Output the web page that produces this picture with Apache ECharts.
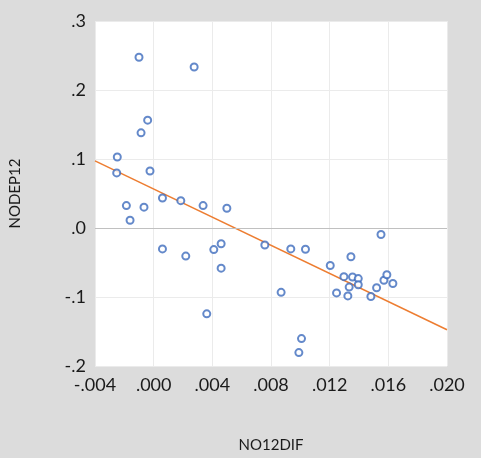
<!DOCTYPE html>
<html>
<head>
<meta charset="utf-8">
<script src="https://cdn.jsdelivr.net/npm/echarts@6/dist/echarts.min.js"></script>
<style>
  html, body { margin: 0; padding: 0; background: #dcdcdc; }
  #chart { width: 481px; height: 458px; }
</style>
</head>
<body>
<div id="chart"></div>
<script>
// NO12DIF values (x)
var no12dif = [
  -0.00100, 0.00276, -0.00041, -0.00086, -0.00248, -0.00252, -0.00025,
  0.00060, 0.00185, 0.00337, 0.00499, -0.00186, -0.00066, -0.00161,
  0.00060, 0.00219, 0.00410, 0.00460, 0.00460, 0.00362, 0.00758,
  0.00935, 0.01035, 0.00869, 0.01008, 0.00990, 0.01204, 0.01297,
  0.01247, 0.01345, 0.01356, 0.01395, 0.01333, 0.01395, 0.01324,
  0.01481, 0.01520, 0.01550, 0.01570, 0.01590, 0.01631
]
// NODEP12 values (y)
var nodep12 = [
  0.2475, 0.2334, 0.1563, 0.1379, 0.1029, 0.0798, 0.0826,
  0.0434, 0.0396, 0.0325, 0.0287, 0.0325, 0.0302, 0.0112,
  -0.0303, -0.0407, -0.0313, -0.0228, -0.0582, -0.1244, -0.0247,
  -0.0303, -0.0308, -0.0932, -0.1603, -0.1806, -0.0544, -0.0705,
  -0.0941, -0.0417, -0.0710, -0.0733, -0.0856, -0.0823, -0.0984,
  -0.0993, -0.0866, -0.0095, -0.0757, -0.0677, -0.0804
]
// fitted line end points
var fitX = [-0.004, 0.020]
var fitY = [0.0973, -0.1475]

var xTicks = [-0.004, 0.000, 0.004, 0.008, 0.012, 0.016, 0.020]
var yTicks = [-0.2, -0.1, 0.0, 0.1, 0.2, 0.3]

function dropZero (v, digits) {
  var s = Math.abs(v).toFixed(digits).replace(/^0/, '')
  return (v < -1e-12 ? '-' : '') + s
}

var points = no12dif.map(function (x, i) { return [x, nodep12[i]] })
var fitLine = fitX.map(function (x, i) { return [x, fitY[i]] })

var chart = echarts.init(document.getElementById('chart'))
var labelFont = { fontFamily: 'Lato', fontSize: 18, color: '#1a1a1a' }

chart.setOption({
  backgroundColor: '#dcdcdc',
  animation: false,
  grid: {
    left: 95, right: 34, top: 21, bottom: 84,
    show: true, backgroundColor: '#ffffff', borderWidth: 0
  },
  xAxis: {
    type: 'value',
    min: xTicks[0],
    max: xTicks[xTicks.length - 1],
    interval: 0.004,
    name: 'NO12DIF',
    nameLocation: 'middle',
    nameGap: 72,
    nameTextStyle: { fontFamily: 'Lato', fontSize: 15, color: '#1a1a1a' },
    axisLine: { show: false },
    axisTick: { show: false },
    splitLine: { lineStyle: { color: '#ebebeb', width: 1 } },
    axisLabel: Object.assign({ margin: 10, formatter: function (v) { return dropZero(v, 3) } }, labelFont)
  },
  yAxis: {
    type: 'value',
    min: yTicks[0],
    max: yTicks[yTicks.length - 1],
    interval: 0.1,
    name: 'NODEP12',
    nameLocation: 'middle',
    nameGap: 72,
    nameTextStyle: { fontFamily: 'Lato', fontSize: 15, color: '#1a1a1a' },
    axisLine: { show: false },
    axisTick: { show: false },
    splitLine: { lineStyle: { color: '#ebebeb', width: 1 } },
    axisLabel: Object.assign({ margin: 9, formatter: function (v) { return dropZero(v, 1) } }, labelFont)
  },
  series: [
    {
      type: 'scatter',
      data: points,
      symbol: 'circle',
      symbolSize: 7,
      itemStyle: { color: '#ffffff', borderColor: '#3d6cbd', borderWidth: 2 },
      markLine: {
        silent: true,
        symbol: 'none',
        label: { show: false },
        lineStyle: { color: '#c0c0c0', width: 1, type: 'solid' },
        data: [{ yAxis: 0 }]
      },
      z: 3
    },
    {
      type: 'line',
      data: fitLine,
      showSymbol: false,
      lineStyle: { color: '#ed7d31', width: 1.5 },
      z: 2
    }
  ]
})
</script>
</body>
</html>
